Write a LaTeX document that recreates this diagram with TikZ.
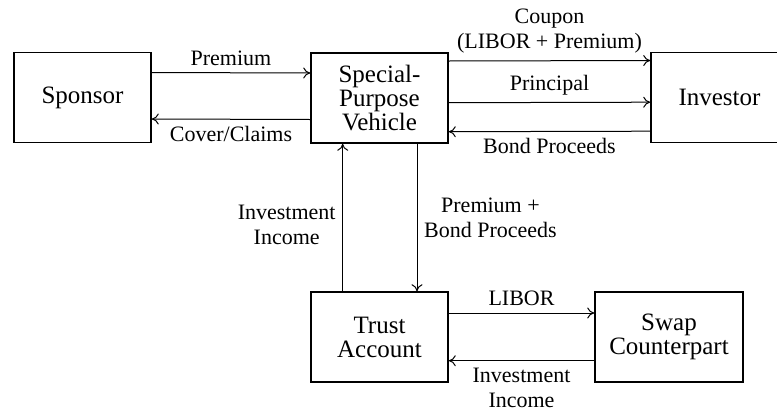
\documentclass[tikz,border=0pt]{standalone}
\usepackage{fontspec}
\setmainfont{Liberation Serif}
\usepackage{amsmath}
\usetikzlibrary{arrows.meta}

\tikzset{
  box/.style={draw, line width=0.8pt, minimum width=68.5pt, minimum height=45pt,
    align=center, inner sep=2pt, font=\fontsize{12.5}{12}\selectfont},
  flow/.style={-{To[length=3.5pt, width=5.5pt]}, line width=0.5pt},
  lbl/.style={font=\fontsize{11}{12.5}\selectfont, align=center}
}

\begin{document}
\begin{tikzpicture}[x=0.5pt, y=-0.5pt, auto]
			\useasboundingbox (0,0) rectangle (777,413);

			\node[box] (sponsor) at (82.5, 97.5) {Sponsor};
			\node[box] (spv) at (379.5, 98) {Special-\\Purpose\\Vehicle};
			\node[box] (investor) at (719.5, 97.5) {Investor};
			\node[box] (trust) at (379.5, 337) {Trust\\Account};
			\node[box, minimum width=74pt] (swap) at (669, 337) {Swap\\Counterpart};

			\draw[flow] ([yshift=12.5pt]sponsor.east) to node[lbl] {Premium} ([yshift=12.5pt]spv.west);
			\draw[flow] ([yshift=-10.75pt]spv.west) to node[lbl] {Cover/Claims} ([yshift=-10.75pt]sponsor.east);

			\draw[flow] ([yshift=18.5pt]spv.east) to node[lbl] {Coupon\\(LIBOR + Premium)} ([yshift=18.5pt]investor.west);
			\draw[flow] ([yshift=-2.35pt]spv.east) to node[lbl] {Principal} ([yshift=-2.35pt]investor.west);
			\draw[flow] ([yshift=-16.85pt]investor.west) to node[lbl] {Bond Proceeds} ([yshift=-16.85pt]spv.east);

			\draw[flow] ([xshift=-18.4pt]trust.north) to node[lbl, pos=0.45] {Investment\\Income} ([xshift=-18.4pt]spv.south);
			\draw[flow] ([xshift=18.75pt]spv.south) to node[lbl, pos=0.5] {Premium +\\Bond Proceeds} ([xshift=18.75pt]trust.north);

			\draw[flow] ([yshift=12pt]trust.east) to node[lbl] {LIBOR} ([yshift=12pt]swap.west);
			\draw[flow] ([yshift=-11.85pt]swap.west) to node[lbl] {Investment\\Income} ([yshift=-11.85pt]trust.east);
		\end{tikzpicture}
\end{document}
